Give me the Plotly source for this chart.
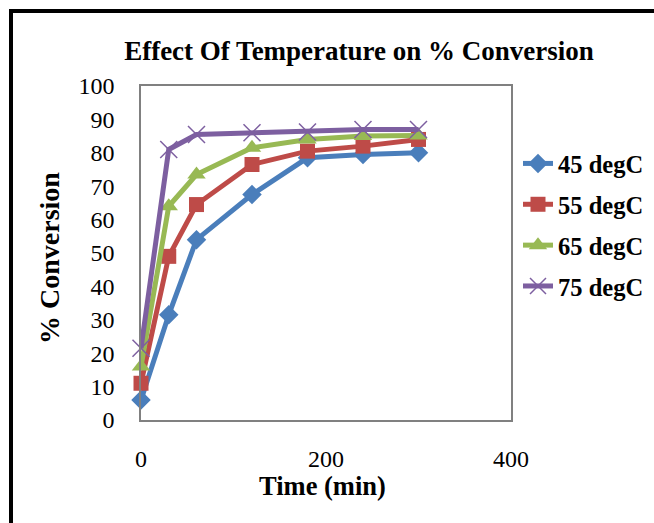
import plotly.graph_objects as go

time_min = [0, 30, 60, 120, 180, 240, 300]
series_names = ["45 degC", "55 degC", "65 degC", "75 degC"]
conv_45 = [6, 31.5, 54, 67.5, 78.5, 79.5, 80]
conv_55 = [11, 49, 64.5, 76.5, 80.5, 82, 84]
conv_65 = [16, 64, 73.5, 81.5, 84, 85, 85.2]
conv_75 = [21.5, 81, 85.5, 86, 86.2, 87, 87]
x_ticks = [0, 200, 400]
y_ticks = [0, 10, 20, 30, 40, 50, 60, 70, 80, 90, 100]

colors = ["#4a7ebb", "#be4b48", "#98b954", "#7d5fa0"]
symbols = ["diamond", "square", "triangle-up", "x-thin"]
sizes = [15, 15, 16, 17]
values = [conv_45, conv_55, conv_65, conv_75]

FONT = "Liberation Serif"
fig = go.Figure()
for i, (name, vals) in enumerate(zip(series_names, values)):
    marker = dict(symbol=symbols[i], size=sizes[i], color=colors[i])
    if symbols[i] == "x-thin":
        marker["line"] = dict(color=colors[i], width=1.5)
    fig.add_trace(go.Scatter(
        x=time_min, y=vals, name=name, mode="lines+markers",
        line=dict(color=colors[i], width=5), marker=marker,
        legendgroup=name, cliponaxis=False,
    ))

W, H = 654, 523
L, R, T, B = 141, 511, 86, 420
pw, ph = R - L, B - T

def px(xp):
    return (xp - L) / pw

def py(yp):
    return (B - yp) / ph

fig.update_layout(
    width=W, height=H,
    margin=dict(l=L, r=W - R, t=T, b=H - B, autoexpand=False),
    paper_bgcolor="white", plot_bgcolor="white",
    font=dict(family=FONT, size=24, color="black"),
    showlegend=True,
    legend=dict(x=px(518), y=py(141), xanchor="left", yanchor="top",
                font=dict(family=FONT, size=24.5, color="black", weight="bold"),
                bgcolor="rgba(0,0,0,0)", tracegroupgap=6, itemwidth=30),
    title=dict(text="<b>Effect Of Temperature on % Conversion</b>",
               xref="container", x=359 / W, xanchor="center",
               y=1 - 51 / H, yanchor="middle",
               font=dict(family=FONT, size=27, color="black")),
    xaxis=dict(range=[0, 400], tickvals=x_ticks, showgrid=False, zeroline=False,
               showline=True, linecolor="#808080", linewidth=1.5, mirror=True,
               ticks="outside", ticklen=16, tickcolor="rgba(0,0,0,0)",
               tickfont=dict(family=FONT, size=24)),
    yaxis=dict(range=[0, 100], tickvals=y_ticks, showgrid=False, zeroline=False,
               showline=True, linecolor="#808080", linewidth=1.5, mirror=True,
               ticks="outside", ticklen=20, tickcolor="rgba(0,0,0,0)",
               tickfont=dict(family=FONT, size=24)),
    annotations=[
        dict(text="<b>Time (min)</b>", xref="paper", yref="paper",
             x=px(322), y=py(486), xanchor="center", yanchor="middle",
             showarrow=False, font=dict(family=FONT, size=26.5, color="black")),
        dict(text="<b>% Conversion</b>", xref="paper", yref="paper",
             x=px(49), y=py(258), xanchor="center", yanchor="middle",
             textangle=-90, showarrow=False,
             font=dict(family=FONT, size=28, color="black")),
    ],
)

fig.add_shape(type="rect", xref="paper", yref="paper",
              x0=px(11), x1=px(700), y0=py(560), y1=py(11),
              line=dict(color="black", width=4), fillcolor="rgba(0,0,0,0)",
              layer="above")

fig.write_html("out.html")
